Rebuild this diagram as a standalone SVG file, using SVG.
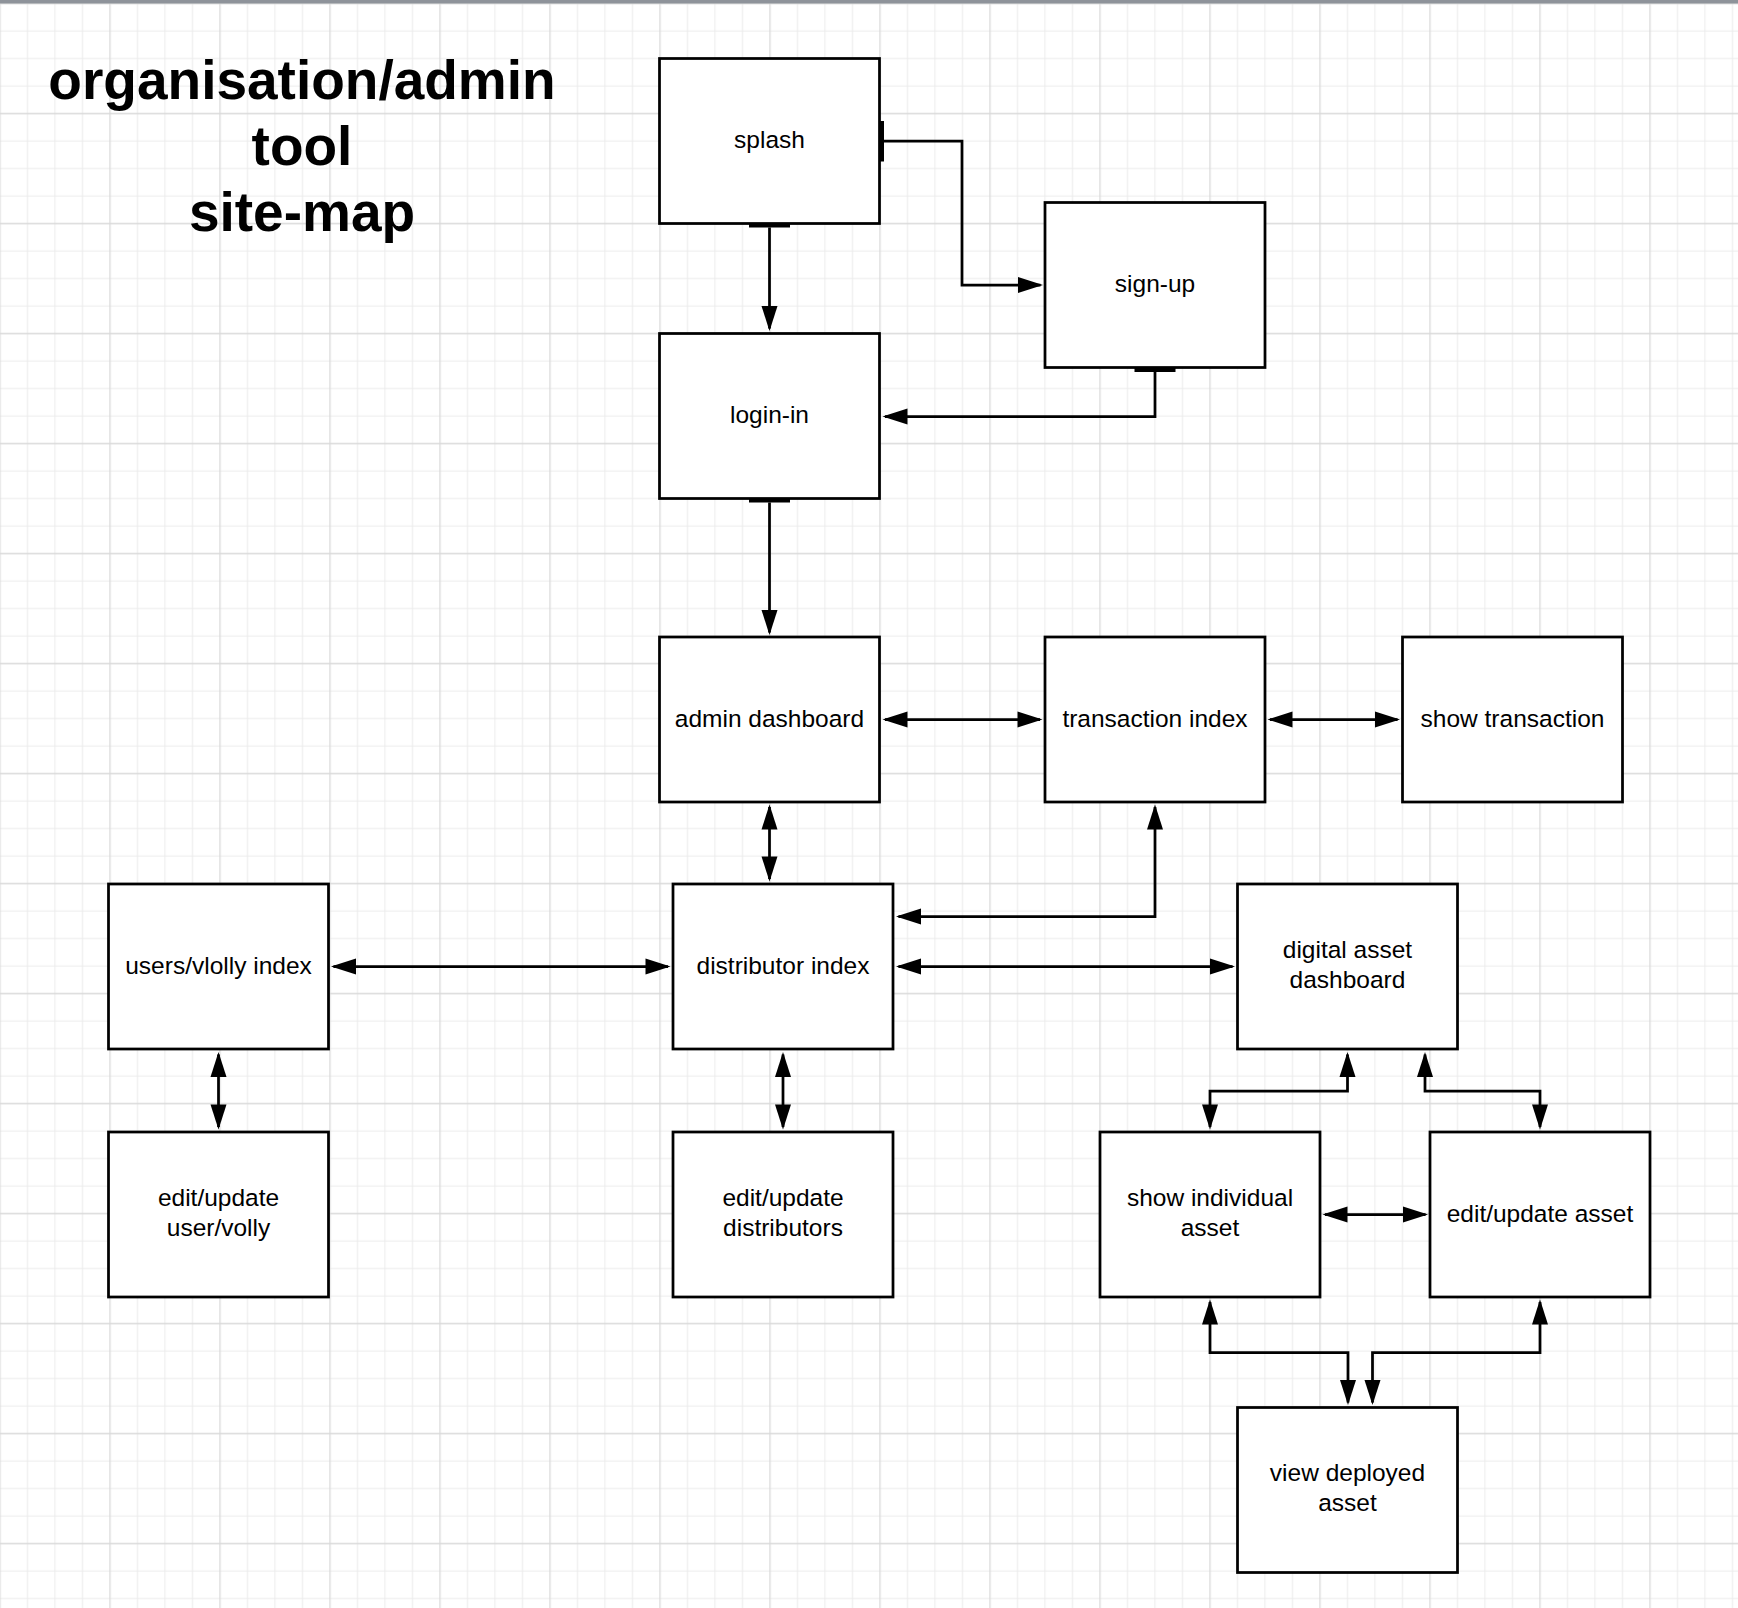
<svg xmlns="http://www.w3.org/2000/svg" width="1738" height="1608" viewBox="0 0 1738 1608">
  <style>
    .box { fill: #ffffff; stroke: #000000; stroke-width: 2.75; }
    .lbl { font-family: "Liberation Sans", Arial, sans-serif; font-size: 24.5px; fill: #000000; text-anchor: middle; }
    .title { font-family: "Liberation Sans", Arial, sans-serif; font-size: 55px; font-weight: bold; fill: #000000; text-anchor: middle; }
    .conn { fill: none; stroke: #000000; stroke-width: 2.75; }
    .stub { fill: #000000; }
  </style>
  <defs>
    <pattern id="grid" patternUnits="userSpaceOnUse" x="-13.75" y="-10.25" width="110" height="110">
      <path d="M41.25,0 V110 M68.75,0 V110 M96.25,0 V110 M0,41.25 H110 M0,68.75 H110 M0,96.25 H110" stroke="#ebebeb" stroke-width="1" fill="none"/>
      <path d="M13.75,0 V110 M0,13.75 H110" stroke="#dadada" stroke-width="1.3" fill="none"/>
    </pattern>
    <marker id="arrow" markerUnits="userSpaceOnUse" markerWidth="25" markerHeight="16" viewBox="0 0 25 16" refX="22.5" refY="8" orient="auto-start-reverse" overflow="visible">
      <path d="M0,0 L25,8 L0,16 Z" fill="#000000"/>
    </marker>
  </defs>

  <rect x="0" y="0" width="1738" height="1608" fill="#ffffff"/>
  <rect x="0" y="0" width="1738" height="1608" fill="url(#grid)"/>
  <rect x="0" y="0" width="1738" height="3.5" fill="#8e939a"/>

  <g id="title">
    <text class="title" x="302" y="99">organisation/admin</text>
    <text class="title" x="302" y="165">tool</text>
    <text class="title" x="302" y="231">site-map</text>
  </g>

  <g id="connectors">
    <!-- splash -> login-in -->
    <rect class="stub" x="749" y="222.5" width="41" height="5"/>
    <path class="conn" d="M769.5,227.5 V328.5" marker-end="url(#arrow)"/>
    <!-- splash -> sign-up -->
    <rect class="stub" x="879.5" y="121" width="4.5" height="40.5"/>
    <path class="conn" d="M884,141 H962 V285 H1040.5" marker-end="url(#arrow)"/>
    <!-- sign-up -> login-in -->
    <rect class="stub" x="1134.5" y="367" width="41" height="5"/>
    <path class="conn" d="M1155,372 V416.5 H885" marker-end="url(#arrow)"/>
    <!-- login-in -> admin dashboard -->
    <rect class="stub" x="749" y="497.5" width="41" height="5"/>
    <path class="conn" d="M769.5,502.5 V632.5" marker-end="url(#arrow)"/>
    <!-- admin dashboard <-> transaction index -->
    <path class="conn" d="M885,719.5 H1040" marker-start="url(#arrow)" marker-end="url(#arrow)"/>
    <!-- transaction index <-> show transaction -->
    <path class="conn" d="M1270,719.5 H1397.5" marker-start="url(#arrow)" marker-end="url(#arrow)"/>
    <!-- admin dashboard <-> distributor index -->
    <path class="conn" d="M769.5,807 V879" marker-start="url(#arrow)" marker-end="url(#arrow)"/>
    <!-- transaction index <-> distributor index -->
    <path class="conn" d="M1155,807 V916.5 H898.5" marker-start="url(#arrow)" marker-end="url(#arrow)"/>
    <!-- users/vlolly index <-> distributor index -->
    <path class="conn" d="M333.5,966.5 H668" marker-start="url(#arrow)" marker-end="url(#arrow)"/>
    <!-- distributor index <-> digital asset dashboard -->
    <path class="conn" d="M898.5,966.5 H1232.5" marker-start="url(#arrow)" marker-end="url(#arrow)"/>
    <!-- users/vlolly index <-> edit/update user/volly -->
    <path class="conn" d="M218.5,1054.5 V1127" marker-start="url(#arrow)" marker-end="url(#arrow)"/>
    <!-- distributor index <-> edit/update distributors -->
    <path class="conn" d="M783,1054.5 V1127" marker-start="url(#arrow)" marker-end="url(#arrow)"/>
    <!-- digital asset dashboard <-> show individual asset -->
    <path class="conn" d="M1347.5,1054.5 V1091 H1210 V1127" marker-start="url(#arrow)" marker-end="url(#arrow)"/>
    <!-- digital asset dashboard <-> edit/update asset -->
    <path class="conn" d="M1425,1054.5 V1091 H1540 V1127" marker-start="url(#arrow)" marker-end="url(#arrow)"/>
    <!-- show individual asset <-> edit/update asset -->
    <path class="conn" d="M1325,1214.5 H1425.5" marker-start="url(#arrow)" marker-end="url(#arrow)"/>
    <!-- show individual asset <-> view deployed asset -->
    <path class="conn" d="M1210,1302 V1352.5 H1348 V1402.5" marker-start="url(#arrow)" marker-end="url(#arrow)"/>
    <!-- edit/update asset <-> view deployed asset -->
    <path class="conn" d="M1540,1302 V1352.5 H1372.5 V1402.5" marker-start="url(#arrow)" marker-end="url(#arrow)"/>
  </g>

  <g id="splash">
    <rect class="box" x="659.5" y="58.5" width="220" height="165"/>
    <text class="lbl" x="769.5" y="148">splash</text>
  </g>
  <g id="sign-up">
    <rect class="box" x="1045" y="202.5" width="220" height="165"/>
    <text class="lbl" x="1155" y="292">sign-up</text>
  </g>
  <g id="login-in">
    <rect class="box" x="659.5" y="333.5" width="220" height="165"/>
    <text class="lbl" x="769.5" y="423">login-in</text>
  </g>
  <g id="admin-dashboard">
    <rect class="box" x="659.5" y="637" width="220" height="165"/>
    <text class="lbl" x="769.5" y="726.5">admin dashboard</text>
  </g>
  <g id="transaction-index">
    <rect class="box" x="1045" y="637" width="220" height="165"/>
    <text class="lbl" x="1155" y="726.5">transaction index</text>
  </g>
  <g id="show-transaction">
    <rect class="box" x="1402.5" y="637" width="220" height="165"/>
    <text class="lbl" x="1512.5" y="726.5">show transaction</text>
  </g>
  <g id="users-vlolly-index">
    <rect class="box" x="108.5" y="884" width="220" height="165"/>
    <text class="lbl" x="218.5" y="973.5">users/vlolly index</text>
  </g>
  <g id="distributor-index">
    <rect class="box" x="673" y="884" width="220" height="165"/>
    <text class="lbl" x="783" y="973.5">distributor index</text>
  </g>
  <g id="digital-asset-dashboard">
    <rect class="box" x="1237.5" y="884" width="220" height="165"/>
    <text class="lbl" x="1347.5" y="958">digital asset</text>
    <text class="lbl" x="1347.5" y="988">dashboard</text>
  </g>
  <g id="edit-update-user-volly">
    <rect class="box" x="108.5" y="1132" width="220" height="165"/>
    <text class="lbl" x="218.5" y="1205.5">edit/update</text>
    <text class="lbl" x="218.5" y="1235.5">user/volly</text>
  </g>
  <g id="edit-update-distributors">
    <rect class="box" x="673" y="1132" width="220" height="165"/>
    <text class="lbl" x="783" y="1205.5">edit/update</text>
    <text class="lbl" x="783" y="1235.5">distributors</text>
  </g>
  <g id="show-individual-asset">
    <rect class="box" x="1100" y="1132" width="220" height="165"/>
    <text class="lbl" x="1210" y="1205.5">show individual</text>
    <text class="lbl" x="1210" y="1235.5">asset</text>
  </g>
  <g id="edit-update-asset">
    <rect class="box" x="1430" y="1132" width="220" height="165"/>
    <text class="lbl" x="1540" y="1221.5">edit/update asset</text>
  </g>
  <g id="view-deployed-asset">
    <rect class="box" x="1237.5" y="1407.5" width="220" height="165"/>
    <text class="lbl" x="1347.5" y="1481">view deployed</text>
    <text class="lbl" x="1347.5" y="1511">asset</text>
  </g>
</svg>
